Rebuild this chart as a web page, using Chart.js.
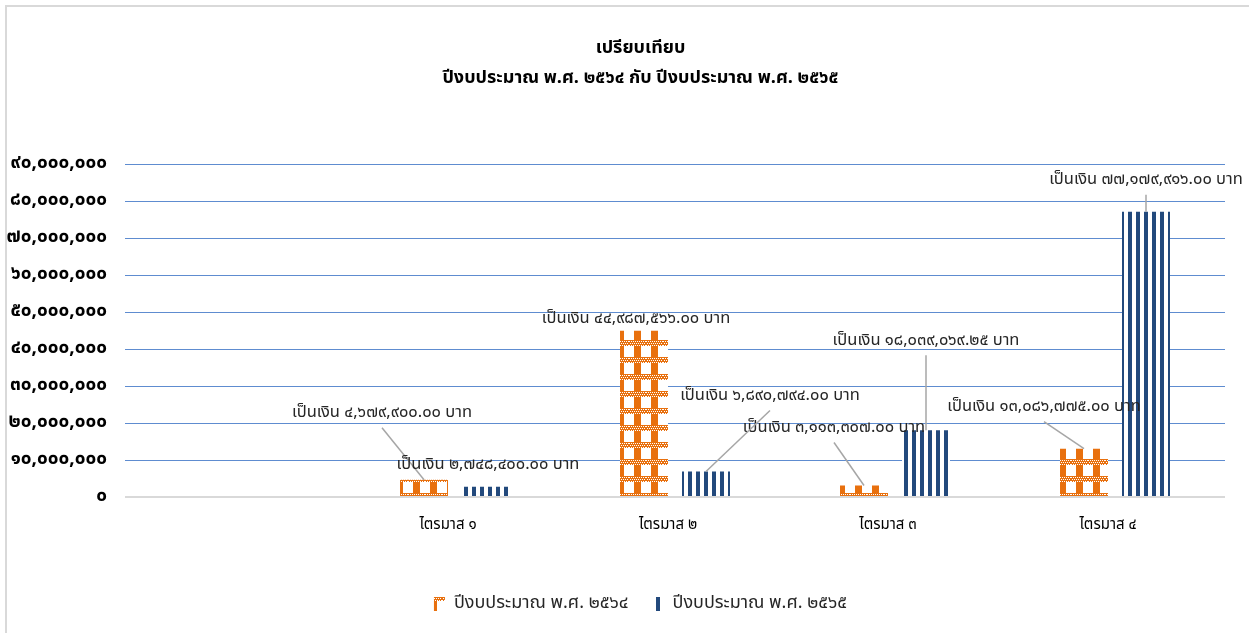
<!DOCTYPE html>
<html lang="th">
  <head>
    <meta charset="utf-8" />
    <title>เปรียบเทียบ ปีงบประมาณ</title>
    <script src="https://cdn.jsdelivr.net/npm/chart.js@4.4.0/dist/chart.umd.min.js"></script>
    <style>
      html, body { margin: 0; padding: 0; background: #fff; }
      #wrap { position: relative; width: 1249px; height: 633px; }
    </style>
  </head>
  <body>
    <div id="wrap"><canvas id="chart"></canvas></div>
    <script>
      // data
      const categories = ['', 'ไตรมาส ๑', 'ไตรมาส ๒', 'ไตรมาส ๓', 'ไตรมาส ๔'];
      const budget2564 = [null, 4679900.00, 44987566.00, 3113307.00, 13086775.00];
      const budget2565 = [null, 2748400.00, 6890794.00, 18039069.25, 77179916.00];
      const seriesNames = ['ปีงบประมาณ พ.ศ. ๒๕๖๔', 'ปีงบประมาณ พ.ศ. ๒๕๖๕'];
      const titleLines = ['เปรียบเทียบ', 'ปีงบประมาณ พ.ศ. ๒๕๖๔ กับ ปีงบประมาณ พ.ศ. ๒๕๖๕'];
      const yTickValues = [0, 10000000, 20000000, 30000000, 40000000, 50000000, 60000000, 70000000, 80000000, 90000000];
      const yTickLabels = ['๐', '๑๐,๐๐๐,๐๐๐', '๒๐,๐๐๐,๐๐๐', '๓๐,๐๐๐,๐๐๐', '๔๐,๐๐๐,๐๐๐',
                           '๕๐,๐๐๐,๐๐๐', '๖๐,๐๐๐,๐๐๐', '๗๐,๐๐๐,๐๐๐', '๘๐,๐๐๐,๐๐๐', '๙๐,๐๐๐,๐๐๐'];

      // where each data label sits, relative to the top of its bar (px)
      const labelOffset2564 = [null, [-42, -66], [-8, -11], [-30, -57], [-40, -41]];
      const labelOffset2565 = [null, [2, -21], [64, -75], [0, -89], [0, -31]];

      const ORANGE = '#E8700E';
      const BLUE = '#22497C';
      const FONT = "Tahoma, 'Noto Sans Thai', 'Noto Sans', sans-serif";

      function thaiDigits(s) {
        return s.replace(/[0-9]/g, d => '๐๑๒๓๔๕๖๗๘๙'[d]);
      }
      function moneyLabel(v) {
        const s = v.toLocaleString('en-US', { minimumFractionDigits: 2, maximumFractionDigits: 2 });
        return 'เป็นเงิน ' + thaiDigits(s) + ' บาท';
      }

      // orange stripes with dotted bands, like the excel pattern
      function orangePattern() {
        const c = document.createElement('canvas');
        c.width = 17; c.height = 17;
        const g = c.getContext('2d');
        g.fillStyle = '#fff';
        g.fillRect(0, 0, 17, 17);
        g.fillStyle = ORANGE;
        g.fillRect(5, 0, 7, 17);
        g.fillRect(0, 0, 17, 6);
        g.fillStyle = '#fff';
        for (let y = 0; y < 6; y += 2) {
          for (let x = (y / 2) % 2; x < 17; x += 2) {
            g.fillRect(x, y + 1, 1, 1);
          }
        }
        return g.createPattern(c, 'repeat');
      }
      // dark blue vertical stripes
      function bluePattern() {
        const c = document.createElement('canvas');
        c.width = 8; c.height = 8;
        const g = c.getContext('2d');
        g.fillStyle = '#fff';
        g.fillRect(0, 0, 8, 8);
        g.fillStyle = BLUE;
        g.fillRect(0, 0, 4, 8);
        return g.createPattern(c, 'repeat');
      }

      // chart border (only top and left edges show in the picture)
      const frame = {
        id: 'frame',
        afterLayout(chart) {
          // the y labels are wider than the axis box; widen its clip area to the left edge
          chart.scales.y.left = 0;
        },
        beforeDraw(chart) {
          const ctx = chart.ctx;
          ctx.save();
          ctx.fillStyle = '#fff';
          ctx.fillRect(0, 0, chart.width, chart.height);
          ctx.strokeStyle = '#D9D9D9';
          ctx.lineWidth = 2;
          ctx.beginPath();
          ctx.moveTo(6, chart.height);
          ctx.lineTo(6, 6);
          ctx.lineTo(chart.width, 6);
          ctx.stroke();
          ctx.restore();
        }
      };

      // data labels with leader lines
      const valueLabels = {
        id: 'valueLabels',
        afterDatasetsDraw(chart) {
          const ctx = chart.ctx;
          const offsets = [labelOffset2564, labelOffset2565];
          ctx.save();
          ctx.font = '16.5px ' + FONT;
          ctx.textAlign = 'center';
          ctx.textBaseline = 'middle';
          chart.data.datasets.forEach((ds, di) => {
            const meta = chart.getDatasetMeta(di);
            meta.data.forEach((bar, i) => {
              const v = ds.data[i];
              if (v == null) return;
              const [dx, dy] = offsets[di][i];
              const lx = bar.x + dx, ly = bar.y + dy;
              if (dy < -25) {
                ctx.strokeStyle = '#A6A6A6';
                ctx.lineWidth = 1.5;
                ctx.beginPath();
                ctx.moveTo(lx, ly + 14);
                ctx.lineTo(bar.x, bar.y);
                ctx.stroke();
              }
              ctx.fillStyle = '#262626';
              ctx.fillText(moneyLabel(v), lx, ly);
            });
          });
          ctx.restore();
        }
      };

      new Chart(document.getElementById('chart'), {
        type: 'bar',
        data: {
          labels: categories,
          datasets: [
            { label: seriesNames[0], data: budget2564, backgroundColor: orangePattern(), borderWidth: 0 },
            { label: seriesNames[1], data: budget2565, backgroundColor: bluePattern(), borderWidth: 0 }
          ]
        },
        options: {
          responsive: true,
          maintainAspectRatio: false,
          animation: false,
          categoryPercentage: 0.5636,
          barPercentage: 0.774,
          // left padding keeps the title and legend centred like the picture
          layout: { padding: { left: 56, right: 24, top: 0, bottom: 10 } },
          plugins: {
            tooltip: { enabled: false },
            title: {
              display: true,
              text: titleLines,
              color: '#000',
              font: { family: FONT, size: 18, weight: 'bold', lineHeight: 1.65 },
              padding: { top: 35, bottom: 70 }
            },
            legend: {
              position: 'bottom',
              labels: {
                color: '#262626',
                font: { family: FONT, size: 18 },
                boxWidth: 11,
                boxHeight: 14,
                padding: 24
              }
            }
          },
          scales: {
            x: {
              grid: { display: false, drawTicks: false },
              border: { display: false },
              ticks: { color: '#000', font: { family: FONT, size: 15 }, padding: 20, labelOffset: -7 },
              afterFit: s => { s.height = 74; }
            },
            y: {
              min: 0,
              max: 90000000,
              afterBuildTicks: s => { s.ticks = yTickValues.map(v => ({ value: v })); },
              afterFit: s => { s.width = 69; },
              border: { display: false },
              grid: {
                drawTicks: false,
                color: c => c.tick && c.tick.value === 0 ? '#D9D9D9' : '#5E8CD0',
                lineWidth: c => c.tick && c.tick.value === 0 ? 2 : 1
              },
              ticks: {
                padding: 18,
                color: '#000',
                font: { family: FONT, size: 19, weight: 'bold' },
                callback: (v, i) => yTickLabels[yTickValues.indexOf(v)]
              }
            }
          }
        },
        plugins: [frame, valueLabels]
      });
    </script>
  </body>
</html>
